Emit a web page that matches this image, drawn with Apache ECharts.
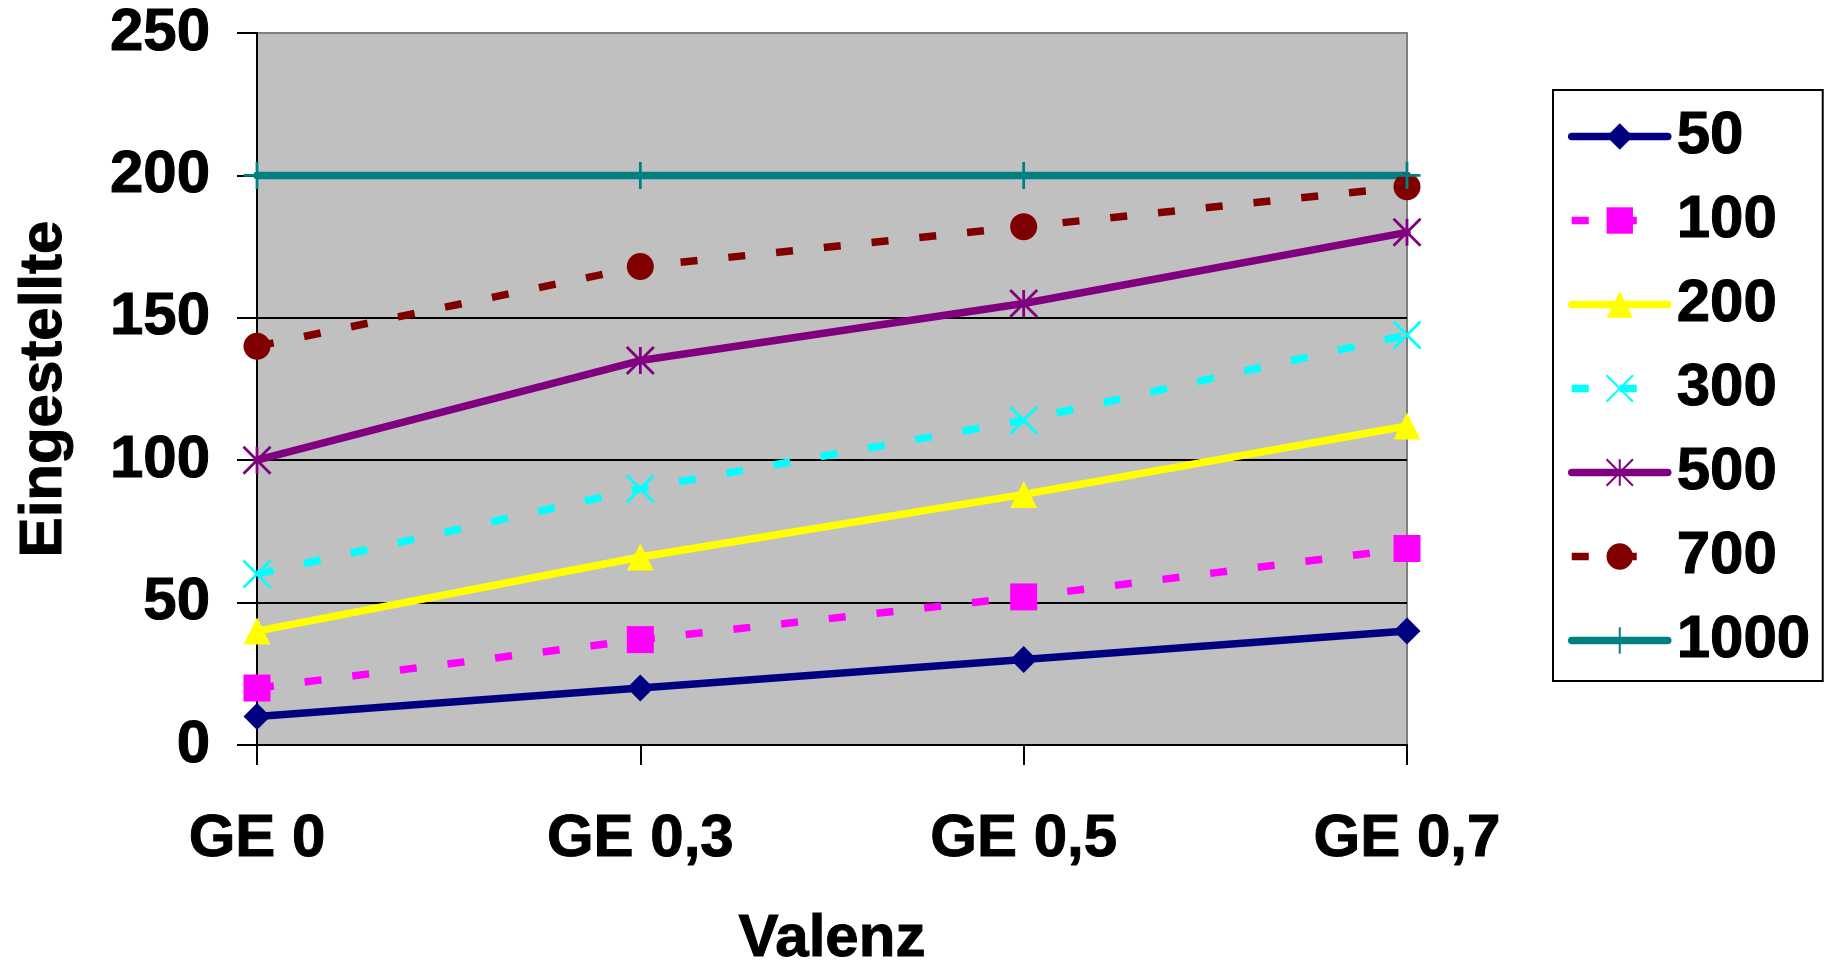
<!DOCTYPE html>
<html>
<head>
<meta charset="utf-8">
<title>Eingestellte nach Valenz</title>
<script src="https://cdn.jsdelivr.net/npm/echarts@6/dist/echarts.min.js"></script>
<style>
  html, body { margin: 0; padding: 0; background: #ffffff; }
  #chart { width: 1825px; height: 969px; }
</style>
</head>
<body>
<div id="chart"></div>
<script>
// Categories on the x axis (Valenz)
const categories = ['GE 0', 'GE 0,3', 'GE 0,5', 'GE 0,7'];

// Series names shown in the legend
const seriesNames = ['50', '100', '200', '300', '500', '700', '1000'];

// Values per series (Eingestellte)
const values50   = [10, 20, 30, 40];
const values100  = [20, 37, 52, 69];
const values200  = [40, 66, 88, 112];
const values300  = [60, 90, 114, 144];
const values500  = [100, 135, 155, 180];
const values700  = [140, 168, 182, 196];
const values1000 = [200, 200, 200, 200];

// Y axis ticks
const yMin = 0;
const yMax = 250;
const yStep = 50;

const FONT = '"Liberation Sans", Arial, sans-serif';

// Heavy bold text used for every label
const boldText = {
  fontFamily: FONT,
  fontWeight: 'bold',
  fontSize: 60,
  lineHeight: 60,
  color: '#000000',
  textBorderColor: '#000000',
  textBorderWidth: 1
};

// Stroked marker shapes (drawn as outlines, not fills)
const SYM_X = 'path://M0,0 L10,10 M10,0 L0,10';
const SYM_STAR = 'path://M5,0 L5,10 M0,0 L10,10 M10,0 L0,10';
const SYM_PLUS = 'path://M5,0 L5,10 M0,5 L10,5';

const dash = [17, 31];

const styles = [
  { data: values50,   color: '#000080', dashed: false, symbol: 'diamond',  stroke: false },
  { data: values100,  color: '#FF00FF', dashed: true,  symbol: 'rect',     stroke: false },
  { data: values200,  color: '#FFFF00', dashed: false, symbol: 'triangle', stroke: false },
  { data: values300,  color: '#00FFFF', dashed: true,  symbol: SYM_X,      stroke: true },
  { data: values500,  color: '#800080', dashed: false, symbol: SYM_STAR,   stroke: true },
  { data: values700,  color: '#800000', dashed: true,  symbol: 'circle',   stroke: false },
  { data: values1000, color: '#008080', dashed: false, symbol: SYM_PLUS,   stroke: true }
];

const series = styles.map(function (s, i) {
  return {
    name: seriesNames[i],
    type: 'line',
    data: s.data,
    symbol: s.symbol,
    symbolSize: 27,
    showAllSymbol: true,
    lineStyle: {
      color: s.color,
      width: 7.5,
      type: s.dashed ? dash : 'solid',
      cap: s.dashed ? 'butt' : 'round'
    },
    itemStyle: s.stroke
      ? { color: 'rgba(0,0,0,0)', borderColor: s.color, borderWidth: 2.8 }
      : { color: s.color, borderWidth: 0 },
    emphasis: { disabled: true }
  };
});

const chart = echarts.init(document.getElementById('chart'), null, { renderer: 'canvas' });

chart.setOption({
  animation: false,
  backgroundColor: '#ffffff',
  grid: {
    show: true,
    left: 257,
    top: 33,
    width: 1150,
    height: 712,
    containLabel: false,
    outerBoundsMode: 'none',
    backgroundColor: '#C0C0C0',
    borderColor: '#808080',
    borderWidth: 2
  },
  legend: {
    orient: 'vertical',
    left: 1553,
    top: 90,
    data: seriesNames,
    itemWidth: 96,
    itemHeight: 33,
    itemGap: 23,
    padding: [16, 12, 10, 15],
    borderColor: '#000000',
    borderWidth: 2,
    backgroundColor: '#ffffff',
    lineStyle: { width: 'inherit' },
    textStyle: Object.assign({}, boldText, { padding: [0, 0, 0, 4] })
  },
  xAxis: {
    type: 'category',
    data: categories,
    boundaryGap: false,
    name: 'Valenz',
    nameLocation: 'middle',
    nameGap: 164,
    nameTextStyle: boldText,
    axisLine: { show: true, lineStyle: { color: '#000000', width: 2 } },
    axisTick: { show: true, inside: false, length: 20, lineStyle: { color: '#000000', width: 2 } },
    axisLabel: Object.assign({ margin: 64 }, boldText),
    splitLine: { show: false }
  },
  yAxis: {
    type: 'value',
    min: yMin,
    max: yMax,
    interval: yStep,
    name: 'Eingestellte',
    nameLocation: 'middle',
    nameGap: 183,
    nameTextStyle: boldText,
    axisLine: { show: true, lineStyle: { color: '#000000', width: 2 } },
    axisTick: { show: true, inside: false, length: 20, lineStyle: { color: '#000000', width: 2 } },
    axisLabel: Object.assign({ margin: 47 }, boldText),
    splitLine: {
      show: true,
      lineStyle: {
        color: ['#000000', '#000000', '#000000', '#000000', '#000000', '#808080'],
        width: 2
      }
    }
  },
  series: series
});
</script>
</body>
</html>
